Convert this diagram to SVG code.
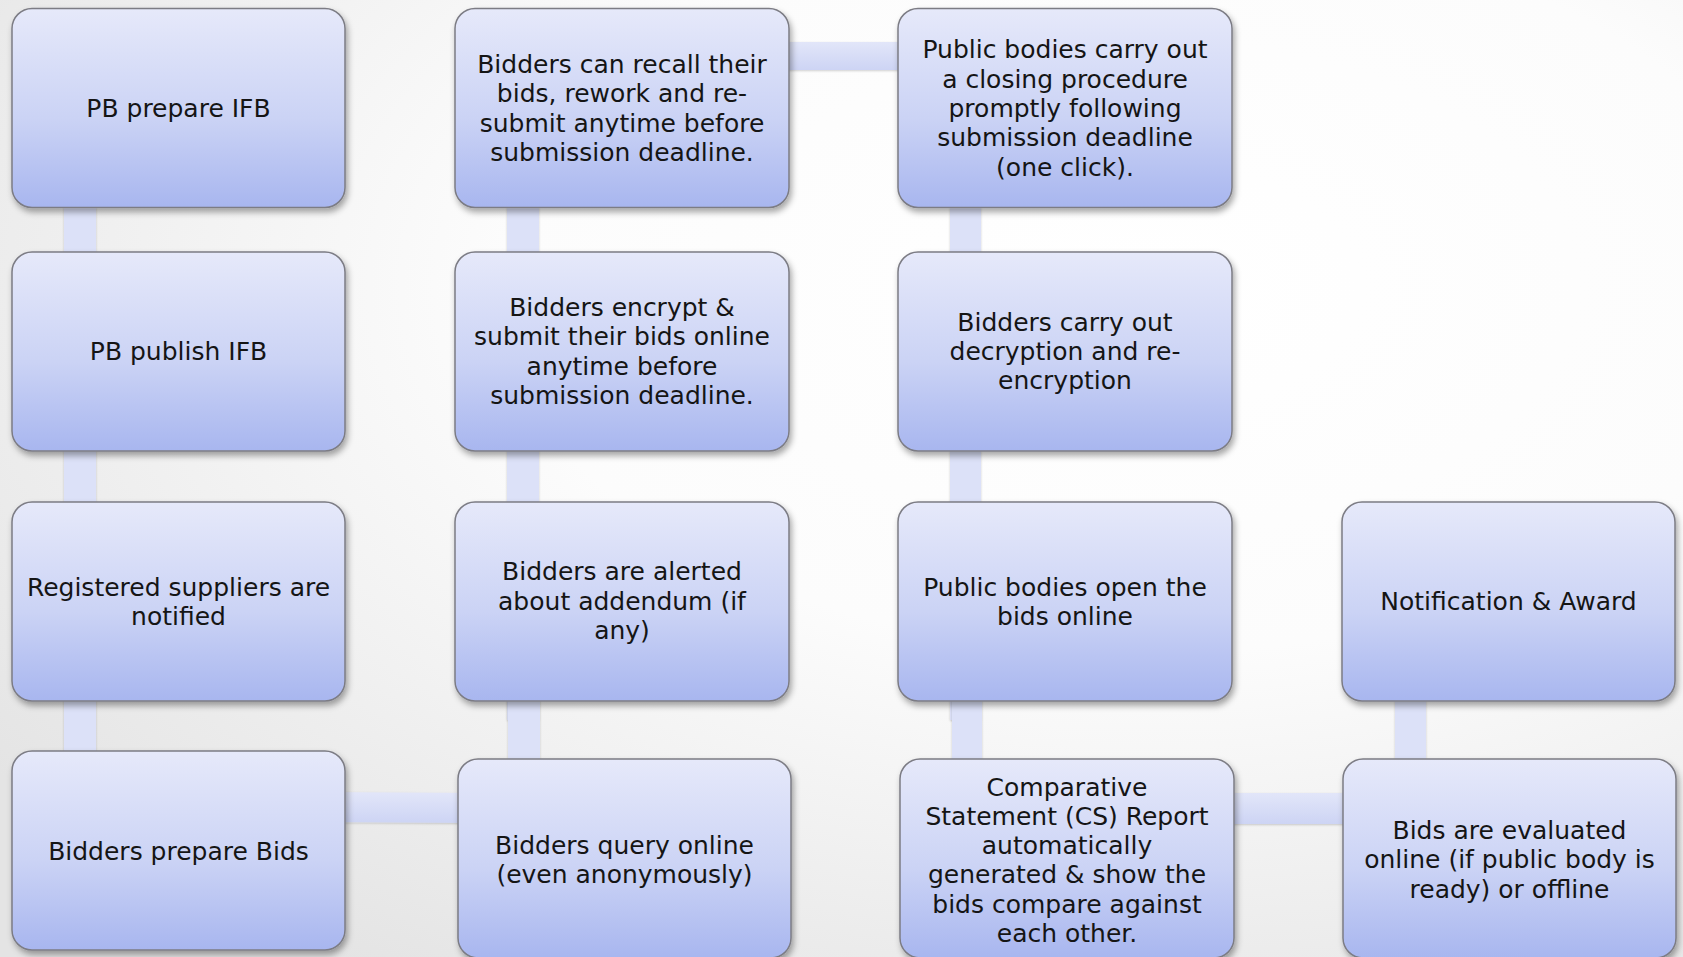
<svg xmlns="http://www.w3.org/2000/svg" width="1683" height="957" viewBox="0 0 1683 957">
<defs>
<radialGradient id="bg" cx="0.68" cy="0.3" r="0.85" gradientUnits="objectBoundingBox">
<stop offset="0" stop-color="#ffffff"/>
<stop offset="0.45" stop-color="#fcfcfc"/>
<stop offset="1" stop-color="#e4e4e4"/>
</radialGradient>
<linearGradient id="boxg" x1="0" y1="0" x2="0" y2="1">
<stop offset="0" stop-color="#e6e9fa"/>
<stop offset="0.55" stop-color="#cbd3f5"/>
<stop offset="1" stop-color="#a8b6ef"/>
</linearGradient>
<linearGradient id="hcon" x1="0" y1="0" x2="0" y2="1">
<stop offset="0" stop-color="#e2e6f9"/>
<stop offset="1" stop-color="#cdd4f4"/>
</linearGradient>
<filter id="sh" x="-10%" y="-10%" width="125%" height="130%">
<feDropShadow dx="2" dy="4" stdDeviation="3" flood-color="#000" flood-opacity="0.35"/>
</filter>
<filter id="csh" x="-20%" y="-20%" width="140%" height="140%">
<feDropShadow dx="0" dy="1" stdDeviation="1.2" flood-color="#000" flood-opacity="0.18"/>
</filter>
</defs>
<style>
.box{fill:url(#boxg);stroke:#7c7c84;stroke-width:1.5;filter:url(#sh)}
.vc{fill:#dce1f8;filter:url(#csh)}
.hc{fill:url(#hcon);filter:url(#csh)}
text{font-family:"DejaVu Sans","Liberation Sans",sans-serif;font-size:25px;fill:#151515;text-anchor:middle;dominant-baseline:central}
</style>
<rect x="0" y="0" width="1683" height="957" fill="url(#bg)"/>

<g id="connectors">
<rect class="vc" x="64" y="120" width="32" height="720"/>
<rect class="vc" x="507" y="120" width="32" height="600"/>
<rect class="vc" x="508" y="690" width="32" height="120"/>
<rect class="vc" x="950" y="120" width="31" height="600"/>
<rect class="vc" x="952" y="690" width="30" height="120"/>
<rect class="vc" x="1395" y="620" width="31" height="200"/>
<rect class="hc" x="760" y="42" width="160" height="28"/>
<polygon class="hc" points="320,792 480,793 480,823 320,822"/>
<rect class="hc" x="1210" y="793" width="160" height="31"/>
</g>

<g id="n1"><rect class="box" x="12" y="8.5" width="333" height="199" rx="20"/>
<text x="178.5" y="108">PB prepare IFB</text></g>
<g id="n2"><rect class="box" x="12" y="252" width="333" height="199" rx="20"/>
<text x="178.5" y="351">PB publish IFB</text></g>
<g id="n3"><rect class="box" x="12" y="502" width="333" height="199" rx="20"/>
<text x="178.5" y="587">Registered suppliers are</text><text x="178.5" y="616">notified</text></g>
<g id="n4"><rect class="box" x="12" y="751" width="333" height="199" rx="20"/>
<text x="178.5" y="851">Bidders prepare Bids</text></g>

<g id="n5"><rect class="box" x="458" y="759" width="333" height="199" rx="20"/>
<text x="624.5" y="845">Bidders query online</text><text x="624.5" y="874">(even anonymously)</text></g>
<g id="n6"><rect class="box" x="455" y="502" width="334" height="199" rx="20"/>
<text x="622" y="571">Bidders are alerted</text><text x="622" y="601">about addendum (if</text><text x="622" y="630">any)</text></g>
<g id="n7"><rect class="box" x="455" y="252" width="334" height="199" rx="20"/>
<text x="622" y="307">Bidders encrypt &amp;</text><text x="622" y="336">submit their bids online</text><text x="622" y="366">anytime before</text><text x="622" y="395">submission deadline.</text></g>
<g id="n8"><rect class="box" x="455" y="8.5" width="334" height="199" rx="20"/>
<text x="622" y="64">Bidders can recall their</text><text x="622" y="93">bids, rework and re-</text><text x="622" y="123">submit anytime before</text><text x="622" y="152">submission deadline.</text></g>

<g id="n9"><rect class="box" x="898" y="8.5" width="334" height="199" rx="20"/>
<text x="1065" y="49">Public bodies carry out</text><text x="1065" y="79">a closing procedure</text><text x="1065" y="108">promptly following</text><text x="1065" y="137">submission deadline</text><text x="1065" y="167">(one click).</text></g>
<g id="n10"><rect class="box" x="898" y="252" width="334" height="199" rx="20"/>
<text x="1065" y="322">Bidders carry out</text><text x="1065" y="351">decryption and re-</text><text x="1065" y="380">encryption</text></g>
<g id="n11"><rect class="box" x="898" y="502" width="334" height="199" rx="20"/>
<text x="1065" y="587">Public bodies open the</text><text x="1065" y="616">bids online</text></g>
<g id="n12"><rect class="box" x="900" y="759" width="334" height="199" rx="20"/>
<text x="1067" y="787">Comparative</text><text x="1067" y="816">Statement (CS) Report</text><text x="1067" y="845">automatically</text><text x="1067" y="874">generated &amp; show the</text><text x="1067" y="904">bids compare against</text><text x="1067" y="933">each other.</text></g>

<g id="n13"><rect class="box" x="1343" y="759" width="333" height="199" rx="20"/>
<text x="1509.5" y="830">Bids are evaluated</text><text x="1509.5" y="859">online (if public body is</text><text x="1509.5" y="889">ready) or offline</text></g>
<g id="n14"><rect class="box" x="1342" y="502" width="333" height="199" rx="20"/>
<text x="1508.5" y="601">Notification &amp; Award</text></g>
</svg>
